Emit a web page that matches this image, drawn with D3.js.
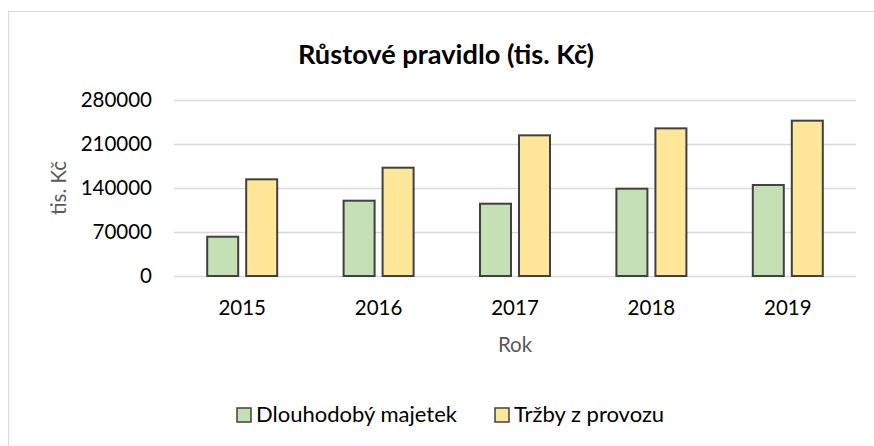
<!DOCTYPE html>
<html><head><meta charset="utf-8">
<script src="https://cdn.jsdelivr.net/npm/d3@7/dist/d3.min.js"></script>
<style>html,body{margin:0;padding:0;background:#fff;overflow:hidden}</style>
</head><body><svg id="c" width="874" height="446"></svg>
<script>
const years = ["2015","2016","2017","2018","2019"];
const seriesNames = ["Dlouhodobý majetek","Tržby z provozu"];
const dlouhodobyMajetek = [62500,119800,115000,138900,144800];
const trzbyZProvozu = [153800,172300,223800,234900,247100];
const yTicks = [0,70000,140000,210000,280000];
const colors = ["#C5E0B4","#FFE699"];
const titleText = "Růstové pravidlo (tis. Kč)";
const yTitle = "tis. Kč";
const xTitle = "Rok";

const FONT = "Lato, 'Open Sans', sans-serif";
const svg = d3.select("#c");
svg.append("rect").attr("x",8.5).attr("y",11.5).attr("width",1000).attr("height",1000)
  .attr("fill","#fff").attr("stroke","#D9D9D9").attr("stroke-width",1);

const L=174, R=856, T=100, B=276;
const y = d3.scaleLinear().domain([0,280000]).range([B,T]);
const x0 = d3.scaleBand().domain(years).range([L,R]);
const groupW = 70;
const x1 = d3.scaleBand().domain(seriesNames).range([0,groupW]).paddingInner(0.205);
const off = (x0.bandwidth()-groupW)/2;

// gridlines
const yAxis = d3.axisLeft(y).tickValues(yTicks).tickSize(-(R-L)).tickPadding(22).tickFormat(d3.format("d"));
const gy = svg.append("g").attr("transform",`translate(${L},0)`).call(yAxis);
gy.select(".domain").remove();
gy.selectAll(".tick line").attr("stroke","#D9D9D9").attr("stroke-width",1.3);
gy.selectAll(".tick text").attr("font-family",FONT).attr("font-size",20.5).attr("fill","#000");

const xAxis = d3.axisBottom(x0).tickSize(0).tickPadding(0);
const gx = svg.append("g").attr("transform",`translate(0,${B})`).call(xAxis);
gx.select(".domain").remove();
gx.selectAll(".tick text").attr("font-family",FONT).attr("font-size",20.5).attr("fill","#000")
  .attr("dy",null).attr("y",39);

const data = years.map((yr,i)=>({year:yr, vals:[dlouhodobyMajetek[i], trzbyZProvozu[i]]}));
const g = svg.append("g");
data.forEach(d=>{
  d.vals.forEach((v,j)=>{
    g.append("rect")
      .attr("x", x0(d.year)+off+x1(seriesNames[j]))
      .attr("y", y(v))
      .attr("width", x1.bandwidth())
      .attr("height", B - y(v))
      .attr("fill", colors[j]).attr("stroke","#404040").attr("stroke-width",2);
  });
});

svg.append("text").attr("x",446).attr("y",64).attr("text-anchor","middle")
  .attr("font-family",FONT).attr("font-weight","bold").attr("font-size",27.2).attr("fill","#000").text(titleText);

svg.append("text").attr("transform",`translate(66,${(T+B)/2}) rotate(-90)`).attr("text-anchor","middle")
  .attr("font-family",FONT).attr("font-size",20.5).attr("fill","#595959").text(yTitle);
svg.append("text").attr("x",(L+R)/2).attr("y",352).attr("text-anchor","middle")
  .attr("font-family",FONT).attr("font-size",20.5).attr("fill","#595959").text(xTitle);

// legend
const lg = svg.append("g");
const items = [{x:237, name:seriesNames[0], c:colors[0]},{x:495, name:seriesNames[1], c:colors[1]}];
items.forEach(it=>{
  lg.append("rect").attr("x",it.x).attr("y",408).attr("width",14).attr("height",14)
    .attr("fill",it.c).attr("stroke","#404040").attr("stroke-width",1.5);
  lg.append("text").attr("x",it.x+19).attr("y",422).attr("font-family",FONT).attr("font-size",22)
    .attr("fill","#000").text(it.name);
});
</script></body></html>
